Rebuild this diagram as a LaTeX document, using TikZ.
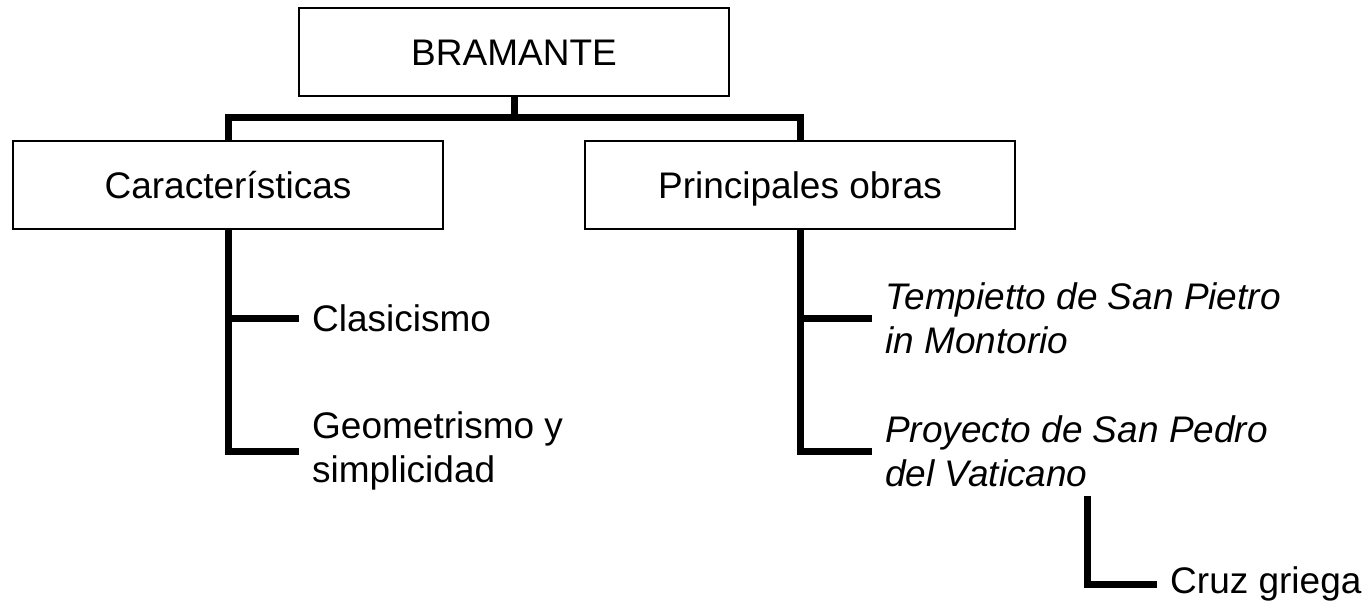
\documentclass[tikz,border=0pt]{standalone}
\usepackage{fontspec}
\setmainfont{Liberation Sans}
\begin{document}
\begin{tikzpicture}[x=1pt,y=1pt,
  box/.style={draw, line width=2pt, minimum width=430pt, minimum height=88pt, text height=26.5pt, text depth=0pt, font=\fontsize{37}{44}\selectfont},
  conn/.style={line width=7pt, line join=miter, line cap=butt},
  leaf/.style={anchor=west, inner xsep=13pt, inner ysep=0pt, align=left, font=\fontsize{37}{44}\selectfont}]
\useasboundingbox (0,0) rectangle (1372,-609);
\node[box] (top) at (514,-52.5) {BRAMANTE};
\node[box] (car) at (228,-185) {Características};
\node[box] (obr) at (800,-185) {Principales obras};
\coordinate (bus) at (514,-118);
\draw[conn] (top.south) -- (bus);
\draw[conn] (car.north) |- (bus) -| (obr.north);
\node[leaf] (clas) at (299,-318) {Clasicismo};
\node[leaf] (geo) at (299,-451) {Geometrismo y\\simplicidad};
\node[leaf] (temp) at (872,-318) {\itshape Tempietto de San Pietro\\\itshape in Montorio};
\node[leaf] (proy) at (872,-451) {\itshape Proyecto de San Pedro\\\itshape del Vaticano};
\node[leaf] (cruz) at (1157,-584) {Cruz griega};
\draw[conn] (car.south) |- (geo.west);
\draw[conn] (car.south |- clas.west) -- (clas.west);
\draw[conn] (obr.south) |- (proy.west);
\draw[conn] (obr.south |- temp.west) -- (temp.west);
\coordinate (ctop) at (1087,-496);
\draw[conn] (ctop) |- (cruz.west);
\end{tikzpicture}
\end{document}
